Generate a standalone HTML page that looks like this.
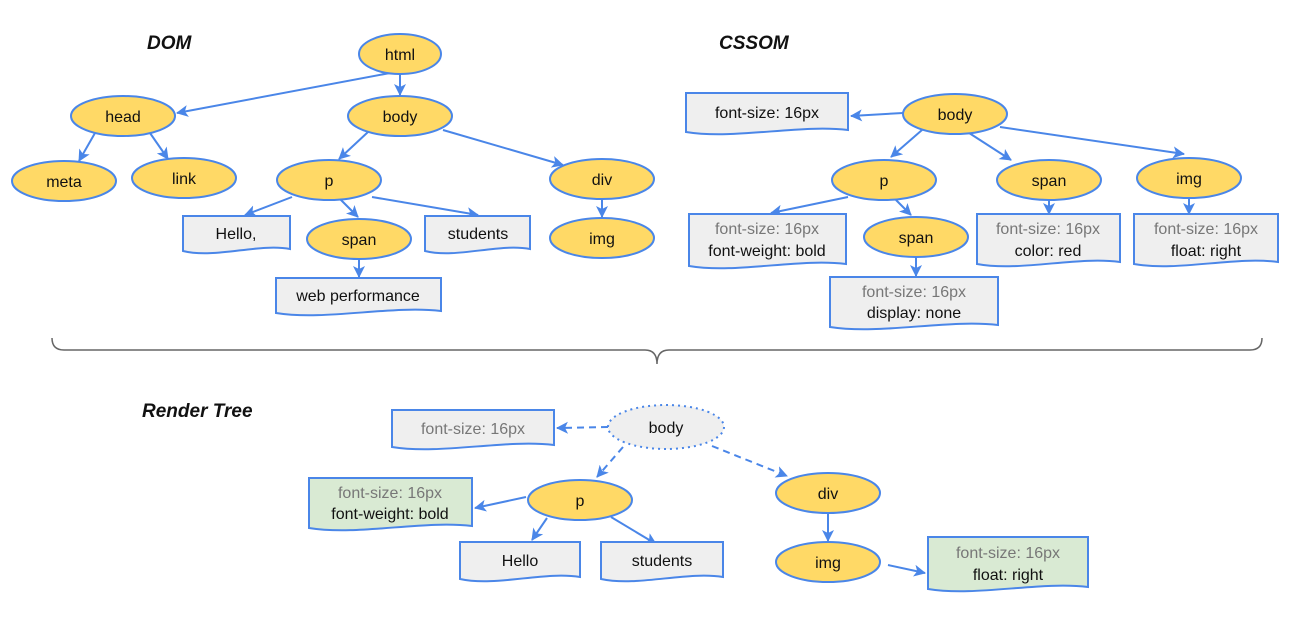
<!DOCTYPE html>
<html><head><meta charset="utf-8"><style>
html,body{margin:0;padding:0;background:#fff;}
svg{display:block;font-family:"Liberation Sans",Arial,sans-serif;}
.e{fill:#ffd966;stroke:#4a86e8;stroke-width:2;}
.d{fill:#efefef;stroke:#4a86e8;stroke-width:2;}
.g{fill:#d9ead3;stroke:#4a86e8;stroke-width:2;}
.a{stroke:#4a86e8;stroke-width:2;fill:none;marker-end:url(#m);}
.ad{stroke:#4a86e8;stroke-width:2;fill:none;stroke-dasharray:7,5;marker-end:url(#m);}
text{font-size:16px;text-anchor:middle;fill:#111;}
.gr{fill:#777;}
.t{font-size:19px;font-weight:bold;font-style:italic;text-anchor:start;}
</style></head><body>
<svg width="1315" height="617" viewBox="0 0 1315 617">
<defs><marker id="m" markerWidth="13" markerHeight="13" refX="11" refY="6" orient="auto" markerUnits="userSpaceOnUse"><path d="M0,0 L12,6 L0,12 L3,6 Z" fill="#4a86e8"/></marker></defs>

<text class="t" x="147" y="49">DOM</text>
<text class="t" x="719" y="49">CSSOM</text>
<text class="t" x="142" y="417">Render Tree</text>

<path class="a" d="M390,73 L177,113"/>
<path class="a" d="M400,74 L400,95"/>
<path class="a" d="M95,133 L79,161"/>
<path class="a" d="M150,133 L168,159"/>
<path class="a" d="M368,132 L339,159"/>
<path class="a" d="M443,130 L563,165"/>
<path class="a" d="M292,197 L245,215"/>
<path class="a" d="M340,199 L358,217"/>
<path class="a" d="M372,197 L478,215"/>
<path class="a" d="M359,259 L359,277"/>
<path class="a" d="M602,199 L602,217"/>

<ellipse class="e" cx="400" cy="54" rx="41" ry="20"/><text x="400" y="60">html</text>
<ellipse class="e" cx="123" cy="116" rx="52" ry="20"/><text x="123" y="122">head</text>
<ellipse class="e" cx="400" cy="116" rx="52" ry="20"/><text x="400" y="122">body</text>
<ellipse class="e" cx="64" cy="181" rx="52" ry="20"/><text x="64" y="187">meta</text>
<ellipse class="e" cx="184" cy="178" rx="52" ry="20"/><text x="184" y="184">link</text>
<ellipse class="e" cx="329" cy="180" rx="52" ry="20"/><text x="329" y="186">p</text>
<ellipse class="e" cx="602" cy="179" rx="52" ry="20"/><text x="602" y="185">div</text>
<ellipse class="e" cx="359" cy="239" rx="52" ry="20"/><text x="359" y="245">span</text>
<ellipse class="e" cx="602" cy="238" rx="52" ry="20"/><text x="602" y="244">img</text>
<path class="d" d="M183,216 H290 V249 C258.9,243 215.1,259 183,251 Z"/><text x="236" y="239">Hello,</text>
<path class="d" d="M425,216 H530 V249 C498.5,243 456.5,259 425,251 Z"/><text x="478" y="239">students</text>
<path class="d" d="M276,278 H441 V311 C391.5,305 325.5,321 276,313 Z"/><text x="358" y="301">web performance</text>

<path class="a" d="M903,113 L851,116"/>
<path class="a" d="M922,130 L891,157"/>
<path class="a" d="M966,131 L1011,160"/>
<path class="a" d="M1000,127 L1184,154"/>
<path class="a" d="M848,197 L771,213"/>
<path class="a" d="M896,200 L911,215"/>
<path class="a" d="M1049,200 L1049,214"/>
<path class="a" d="M1189,198 L1189,214"/>
<path class="a" d="M916,257 L916,276"/>

<path class="d" d="M686,93 H848 V130 C799.4,124 734.6,140 686,132 Z"/><text x="767" y="118">font-size: 16px</text>
<ellipse class="e" cx="955" cy="114" rx="52" ry="20"/><text x="955" y="120">body</text>
<ellipse class="e" cx="884" cy="180" rx="52" ry="20"/><text x="884" y="186">p</text>
<ellipse class="e" cx="1049" cy="180" rx="52" ry="20"/><text x="1049" y="186">span</text>
<ellipse class="e" cx="1189" cy="178" rx="52" ry="20"/><text x="1189" y="184">img</text>
<ellipse class="e" cx="916" cy="237" rx="52" ry="20"/><text x="916" y="243">span</text>
<path class="d" d="M689,214 H846 V264 C798.9,258 736.1,274 689,266 Z"/><text class="gr" x="767" y="234">font-size: 16px</text><text x="767" y="256">font-weight: bold</text>
<path class="d" d="M830,277 H998 V325 C947.6,319 880.4,335 830,327 Z"/><text class="gr" x="914" y="297">font-size: 16px</text><text x="914" y="318">display: none</text>
<path class="d" d="M977,214 H1120 V262 C1077.1,256 1019.9,272 977,264 Z"/><text class="gr" x="1048" y="234">font-size: 16px</text><text x="1048" y="256">color: red</text>
<path class="d" d="M1134,214 H1278 V262 C1234.8,256 1177.2,272 1134,264 Z"/><text class="gr" x="1206" y="234">font-size: 16px</text><text x="1206" y="256">float: right</text>

<path d="M52,338 Q52,350 64,350 H645 Q657,350 657,364 Q657,350 669,350 H1250 Q1262,350 1262,338" fill="none" stroke="#666" stroke-width="1.5"/>

<path class="ad" d="M608,427 L557,428"/>
<path class="ad" d="M623,447 L597,477"/>
<path class="ad" d="M712,446 L787,476"/>
<path class="a" d="M526,497 L475,508"/>
<path class="a" d="M547,518 L532,540"/>
<path class="a" d="M611,517 L656,544"/>
<path class="a" d="M828,513 L828,541"/>
<path class="a" d="M888,565 L925,573"/>

<path class="d" d="M392,410 H554 V445 C505.4,439 440.6,455 392,447 Z"/><text class="gr" x="473" y="434">font-size: 16px</text>
<ellipse cx="666" cy="427" rx="58" ry="22" fill="#efefef" stroke="#4a86e8" stroke-width="2" stroke-dasharray="2,4"/><text x="666" y="433">body</text>
<path class="g" d="M309,478 H472 V526 C423.1,520 357.9,536 309,528 Z"/><text class="gr" x="390" y="498">font-size: 16px</text><text x="390" y="519">font-weight: bold</text>
<ellipse class="e" cx="580" cy="500" rx="52" ry="20"/><text x="580" y="506">p</text>
<ellipse class="e" cx="828" cy="493" rx="52" ry="20"/><text x="828" y="499">div</text>
<ellipse class="e" cx="828" cy="562" rx="52" ry="20"/><text x="828" y="568">img</text>
<path class="d" d="M460,542 H580 V577 C544,571 496,587 460,579 Z"/><text x="520" y="566">Hello</text>
<path class="d" d="M601,542 H723 V577 C686.4,571 637.6,587 601,579 Z"/><text x="662" y="566">students</text>
<path class="g" d="M928,537 H1088 V587 C1040,581 976,597 928,589 Z"/><text class="gr" x="1008" y="558">font-size: 16px</text><text x="1008" y="580">float: right</text>
</svg>
</body></html>
